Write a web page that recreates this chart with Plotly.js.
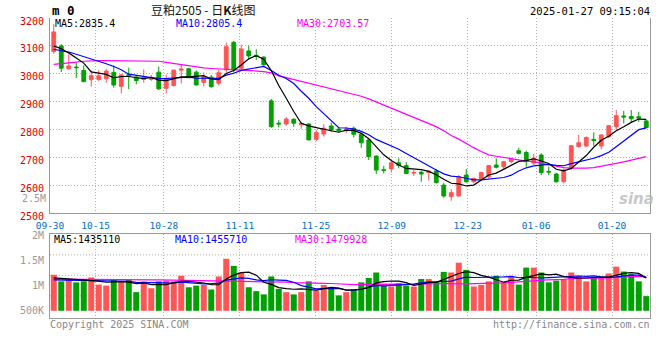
<!DOCTYPE html>
<html><head><meta charset="utf-8">
<script src="https://cdn.plot.ly/plotly-3.0.1.min.js"></script>
<style>html,body{margin:0;padding:0;background:#fff}#chart{width:660px;height:360px}</style>
</head><body><div id="chart"></div>
<script>
const dates = ['09-30','10-08','10-09','10-10','10-11','10-14','10-15','10-16','10-17','10-18',
'10-21','10-22','10-23','10-24','10-25','10-28','10-29','10-30','10-31','11-01',
'11-04','11-05','11-06','11-07','11-08','11-11','11-12','11-13','11-14','11-15',
'11-18','11-19','11-20','11-21','11-22','11-25','11-26','11-27','11-28','11-29',
'12-02','12-03','12-04','12-05','12-06','12-09','12-10','12-11','12-12','12-13',
'12-16','12-17','12-18','12-19','12-20','12-23','12-24','12-25','12-26','12-27',
'12-30','12-31','01-02','01-03','01-06','01-07','01-08','01-09','01-10','01-13',
'01-14','01-15','01-16','01-17','01-20','01-21','01-22','01-23','01-24','01-27'];
const tickLabels = ['09-30','10-15','10-28','11-11','11-25','12-09','12-23','01-06','01-20'];

const open  = [3080,3100,3018,3024,3012,2979,2980,2982,3005,2955, 2997,2988,2980,2980,3006,2948,2958,3013,3018,3006,
 2969,2988,2966,3014,3113,3020,3082,3066,3060,2903, 2823,2820,2837,2817,2820,2765,2784,2813,2802,2796,
 2805,2783,2763,2705,2656,2659,2681,2671,2644,2647, 2646,2652,2601,2560,2562,2637,2613,2625,2631,2673,
 2667,2686,2724,2718,2680,2709,2650,2641,2613,2661, 2739,2741,2765,2741,2775,2810,2849,2847,2846,2831];
const high  = [3178,3106,3070,3040,3030,3012,3013,3018,3030,3000, 3022,2996,3016,2996,3026,2998,3016,3035,3022,3012,
 3005,2996,3014,3112,3118,3105,3101,3088,3062,2910, 2834,2845,2841,2828,2822,2798,2819,2825,2810,2810,
 2811,2789,2766,2707,2670,2688,2697,2683,2655,2652, 2655,2658,2609,2587,2637,2659,2628,2649,2673,2697,
 2688,2700,2735,2725,2713,2715,2667,2645,2661,2745, 2781,2775,2790,2783,2817,2870,2867,2870,2864,2835];
const low   = [3072,3006,3014,2985,2970,2954,2974,2968,2950,2930, 2945,2962,2968,2975,2942,2930,2954,2965,2985,2958,
 2955,2950,2958,3004,3004,3010,3052,3050,3030,2806, 2808,2814,2810,2803,2762,2759,2775,2792,2790,2788,
 2772,2735,2691,2641,2643,2646,2661,2640,2634,2613, 2617,2607,2556,2545,2560,2610,2607,2619,2625,2661,
 2659,2679,2711,2667,2673,2637,2637,2610,2608,2655, 2735,2739,2741,2730,2769,2799,2822,2825,2828,2805];
const close = [3150,3020,3028,3022,2972,2993,2993,3010,2960,2996, 2993,2976,2987,2985,2946,2984,3013,3017,2986,2960,
 2990,2954,3004,3097,3014,3089,3064,3062,3032,2811, 2820,2838,2823,2822,2763,2790,2805,2799,2796,2802,
 2783,2753,2703,2655,2654,2681,2671,2643,2646,2641, 2651,2610,2562,2574,2631,2613,2625,2646,2671,2665,
 2685,2694,2715,2685,2698,2646,2648,2613,2655,2742, 2753,2772,2761,2781,2814,2850,2845,2839,2841,2807];

const ma5  = [3100,3090,3075,3058,3038.4,3007,3001.6,2998,2985.6,2990.4, 2990.4,2987,2982.4,2987.4,2977.4,2975.6,2983,2989,2989.2,2992,
 2993.2,2981.4,2978.8,3001,3011.8,3031.6,3053.6,3065.2,3052.2,3011.6, 2957.8,2912.6,2864.8,2822.8,2813.2,2807.2,2800.6,2795.8,2790.6,2798.4,
 2797,2786.6,2767.4,2739.2,2709.6,2689.2,2672.8,2660.8,2659,2656.4, 2650.4,2638.2,2622,2607.6,2605.6,2598,2601,2617.8,2637.2,2644,
 2658.4,2672.2,2686,2688.8,2695.4,2687.6,2678.4,2658,2652,2660.8, 2682.2,2707,2736.6,2761.8,2776.2,2795.6,2810.2,2825.8,2837.8,2836.4];
const ma10 = [3088,3084,3078,3070,3062,3054,3045,3036,3026,3014.4, 2998.7,2994.3,2990.2,2986.5,2983.9,2983,2985,2985.7,2988.3,2984.7,
 2984.4,2982.2,2983.9,2995.1,3001.9,3012.4,3017.5,3022,3026.6,3011.7, 2994.7,2983.1,2965,2937.5,2912.4,2882.5,2856.6,2830.3,2806.7,2805.8,
 2802.1,2793.6,2781.6,2764.9,2754,2743.1,2729.7,2714.1,2699.1,2683, 2669.8,2655.5,2641.4,2633.3,2631,2624.2,2619.6,2619.9,2622.4,2624.8,
 2628.2,2636.6,2651.9,2663,2669.7,2673,2675.3,2672,2670.4,2678.1, 2684.9,2692.7,2697.3,2706.9,2718.5,2738.9,2758.6,2781.2,2799.8,2806.3];
const ma30 = [3034,3036,3039,3042,3045,3047,3047,3047,3047,3047, 3047,3047,3047,3047,3045,3041,3037,3032,3028,3024,
 3021,3019,3017,3015,3014,3013,3012,3011,3008,3003.6, 2992.6,2986.5,2979.7,2973,2966.1,2959.3,2953,2946,2940.5,2934.1,
 2927.1,2919.6,2910.2,2899.2,2889.4,2879.3,2867.9,2855.5,2844.1,2833.5, 2822.2,2810.7,2796,2778.6,2765.8,2749.9,2735.3,2721.4,2709.4,2704.5,
 2700,2695.2,2691.6,2687.1,2684.9,2680.1,2674.9,2668.7,2664,2662, 2661,2661.6,2663.5,2667.7,2673.1,2678.7,2684.5,2691,2697.5,2703.1];

const volume = [1220e3,1089e3,1122e3,1069e3,1089e3,1167e3,1024e3,1004e3,1122e3,1089e3,
 1122e3,873e3,1089e3,951e3,1089e3,1103e3,1089e3,1201e3,971e3,1004e3,
 1016e3,926e3,1187e3,1540e3,1397e3,1266e3,971e3,893e3,828e3,1187e3,
 938e3,873e3,828e3,873e3,1089e3,906e3,1016e3,957e3,808e3,873e3,
 926e3,1069e3,1156e3,1266e3,1004e3,985e3,1050e3,1004e3,985e3,1136e3,
 1136e3,1089e3,1279e3,1266e3,1462e3,1319e3,985e3,1016e3,1089e3,1201e3,
 1069e3,1181e3,1024e3,1364e3,1364e3,1266e3,1069e3,1103e3,1122e3,1266e3,
 1201e3,1089e3,1156e3,1167e3,1246e3,1383e3,1285e3,1234e3,1089e3,794e3];
const vma5 = [1160e3,1150e3,1135e3,1125e3,1118e3,1107e3,1094e3,1071e3,1081e3,1081e3,
 1072e3,1042e3,1059e3,1025e3,1025e3,1021e3,1064e3,1087e3,1091e3,1074e3,
 1056e3,1024e3,1021e3,1135e3,1213e3,1263e3,1272e3,1213e3,1071e3,1029e3,
 963e3,944e3,931e3,940e3,920e3,914e3,942e3,968e3,955e3,912e3,
 916e3,927e3,966e3,1058e3,1084e3,1096e3,1092e3,1062e3,1006e3,1032e3,
 1062e3,1070e3,1125e3,1181e3,1246e3,1283e3,1262e3,1210e3,1174e3,1122e3,
 1072e3,1111e3,1113e3,1168e3,1200e3,1240e3,1217e3,1233e3,1185e3,1165e3,
 1152e3,1156e3,1167e3,1176e3,1172e3,1208e3,1247e3,1263e3,1247e3,1157e3];
const vma10 = [1120e3,1118e3,1116e3,1115e3,1113e3,1110e3,1108e3,1105e3,1102e3,1100e3,
 1090e3,1068e3,1065e3,1053e3,1053e3,1047e3,1053e3,1073e3,1058e3,1049e3,
 1039e3,1044e3,1054e3,1113e3,1143e3,1160e3,1148e3,1117e3,1103e3,1121e3,
 1113e3,1108e3,1072e3,1005e3,975e3,939e3,943e3,950e3,948e3,916e3,
 915e3,935e3,967e3,1007e3,998e3,1006e3,1009e3,1014e3,1032e3,1058e3,
 1079e3,1081e3,1093e3,1093e3,1139e3,1173e3,1166e3,1167e3,1178e3,1184e3,
 1178e3,1187e3,1161e3,1171e3,1161e3,1156e3,1164e3,1173e3,1176e3,1183e3,
 1196e3,1187e3,1200e3,1180e3,1169e3,1180e3,1202e3,1215e3,1212e3,1164e3];
const vma30 = [1135e3,1135e3,1134e3,1134e3,1133e3,1132e3,1131e3,1130e3,1128e3,1127e3,
 1125e3,1124e3,1122e3,1120e3,1118e3,1116e3,1114e3,1112e3,1110e3,1108e3,
 1106e3,1104e3,1103e3,1101e3,1099e3,1097e3,1095e3,1093e3,1091e3,1090e3,
 1081e3,1073e3,1064e3,1057e3,1057e3,1048e3,1048e3,1046e3,1036e3,1029e3,
 1022e3,1029e3,1031e3,1042e3,1039e3,1035e3,1033e3,1027e3,1027e3,1032e3,
 1036e3,1041e3,1044e3,1035e3,1037e3,1039e3,1040e3,1044e3,1052e3,1053e3,
 1057e3,1067e3,1074e3,1090e3,1100e3,1112e3,1113e3,1118e3,1129e3,1142e3,
 1151e3,1152e3,1152e3,1148e3,1156e3,1170e3,1177e3,1185e3,1189e3,1177e3];

const priceTicks = [2500,2600,2700,2800,2900,3000,3100,3200];
const volTickVals = [500e3,1000e3,1500e3,2000e3];
const volTickText = ['500K','1M','1.5M','2M'];

// ---------- styling / layout ----------
const RED = '#ff5555', GREEN = '#00a000';
const MONO = 'DejaVu Sans Mono, monospace';
const GRID = '#b4b4b4', FRAME = '#9a9a9a';
const N = dates.length;
const idx = dates.map((d, i) => i);
// Sina places date grid lines at d*W/(N-1); convert to candle-index space
const xTickVals = tickLabels.map(t => dates.indexOf(t) * N / (N - 1) - 0.5);
const VOL_BASE = 500e3;

// plot area in pixels: x 50..650, y 18..318
const PX = x => (x - 50) / 600, PY = y => (318 - y) / 300;

const traces = [
  {type:'candlestick', x: idx, open, high, low, close, xaxis:'x', yaxis:'y',
   increasing:{line:{color:RED, width:1}, fillcolor:RED},
   decreasing:{line:{color:GREEN, width:1}, fillcolor:GREEN},
   whiskerwidth:0, hoverinfo:'skip', showlegend:false},
  {type:'scatter', mode:'lines', x: idx, y: ma30, line:{color:'#ff00ff', width:1.2}, xaxis:'x', yaxis:'y', hoverinfo:'skip'},
  {type:'scatter', mode:'lines', x: idx, y: ma10, line:{color:'#0000ff', width:1.2}, xaxis:'x', yaxis:'y', hoverinfo:'skip'},
  {type:'scatter', mode:'lines', x: idx, y: ma5,  line:{color:'#000000', width:1.2}, xaxis:'x', yaxis:'y', hoverinfo:'skip'},
  {type:'bar', x: idx, y: volume.map(v => v - VOL_BASE), base: VOL_BASE, width: 0.8,
   marker:{color: close.map((c, i) => c >= open[i] ? RED : GREEN), line:{width:0}},
   xaxis:'x2', yaxis:'y2', hoverinfo:'skip'},
  {type:'scatter', mode:'lines', x: idx, y: vma30, line:{color:'#ff00ff', width:1.2}, xaxis:'x2', yaxis:'y2', hoverinfo:'skip'},
  {type:'scatter', mode:'lines', x: idx, y: vma10, line:{color:'#0000ff', width:1.2}, xaxis:'x2', yaxis:'y2', hoverinfo:'skip'},
  {type:'scatter', mode:'lines', x: idx, y: vma5,  line:{color:'#000000', width:1.2}, xaxis:'x2', yaxis:'y2', hoverinfo:'skip'}
];

function ann(text, x, y, color, size, xanchor, extra) {
  return Object.assign({text, x: PX(x), y: PY(y), xref:'paper', yref:'paper', showarrow:false,
    xanchor: xanchor || 'left', yanchor:'middle', borderpad:0,
    font:{family: MONO, size: size || 10, color: color || '#000'}}, extra || {});
}

const annotations = [
  ann('<b>m 0</b>', 51, 10, '#000', 12.5),
  ann('豆粕2505\u00a0-\u00a0日<b>K</b>线图', 203, 9.5, '#111', 12, 'center', {font:{family:'Noto Sans CJK SC, DejaVu Sans', size:12, color:'#111'}}),
  ann('2025-01-27 09:15:04', 651, 11, '#000', 10.5, 'right'),
  ann('MA5:2835.4', 54, 23.5, '#000', 10),
  ann('MA10:2805.4', 175, 23.5, '#0000ff', 10),
  ann('MA30:2703.57', 296, 23.5, '#ff00ff', 10),
  ann('MA5:1435110', 53, 239, '#000', 10),
  ann('MA10:1455710', 174, 239, '#0000ff', 10),
  ann('MA30:1479928', 294, 239, '#ff00ff', 10),
  ann('2.5M', 47, 199, '#999', 10, 'right'),
  ann('Copyright 2025 SINA.COM', 49, 324, '#888', 10),
  ann('http://finance.sina.com.cn', 651, 324, '#888', 10, 'right'),
  ann('<b><i>sina</i></b>', 636, 199, 'rgba(185,185,185,0.8)', 15, 'center', {font:{family:'DejaVu Sans', size:15, color:'rgba(185,185,185,0.8)'}})
];

const volGrid = [0.754, 0.51, 0.265].map(f => ({type:'line', xref:'x2 domain', yref:'y2 domain',
  x0:0, x1:1, y0:f, y1:f, layer:'below', line:{color:GRID, width:1, dash:'1px,2px'}}));

const layout = {
  width:660, height:360, paper_bgcolor:'#fff', plot_bgcolor:'#fff',
  margin:{l:50, r:10, t:18, b:42, pad:0},
  showlegend:false, hovermode:false, boxgap:0.28,
  font:{family: MONO, size:10},
  xaxis:{domain:[0,1], anchor:'y', type:'linear', range:[-0.5, N - 0.5], rangeslider:{visible:false},
    tickmode:'array', tickvals:xTickVals, ticktext:tickLabels, ticks:'', ticklabelstandoff:3,
    tickfont:{family:MONO, size:9.5, color:'#0070c8'},
    showgrid:true, gridcolor:GRID, griddash:'1px,2px', gridwidth:1,
    showline:true, linecolor:FRAME, linewidth:1, mirror:false, zeroline:false, fixedrange:true},
  yaxis:{domain:[PY(213.3), 1], anchor:'x', range:[2500, 3200], tickmode:'array', tickvals:priceTicks,
    ticks:'', ticklabelstandoff:3, ticklabelshift:3,
    tickfont:{family:MONO, size:10, color:'#dd0000'},
    showgrid:true, gridcolor:GRID, griddash:'1px,2px', gridwidth:1,
    showline:true, linecolor:FRAME, linewidth:1, mirror:true, zeroline:false, fixedrange:true},
  xaxis2:{domain:[0,1], anchor:'y2', type:'linear', range:[-0.5, N - 0.5],
    tickmode:'array', tickvals:xTickVals, showticklabels:false, ticks:'',
    showgrid:true, gridcolor:GRID, griddash:'1px,2px', gridwidth:1,
    showline:true, linecolor:FRAME, linewidth:1, mirror:true, zeroline:false, fixedrange:true},
  yaxis2:{domain:[0, PY(234.3)], anchor:'x2', range:[356e3, 2030e3], tickmode:'array',
    tickvals:volTickVals, ticktext:volTickText, ticks:'', ticklabelstandoff:3, ticklabelshift:0,
    tickfont:{family:MONO, size:10, color:'#999'},
    showgrid:false, showline:true, linecolor:FRAME, linewidth:1, mirror:true, zeroline:false, fixedrange:true},
  shapes: volGrid,
  annotations
};

Plotly.newPlot('chart', traces, layout, {staticPlot:true, displayModeBar:false});
</script></body></html>
